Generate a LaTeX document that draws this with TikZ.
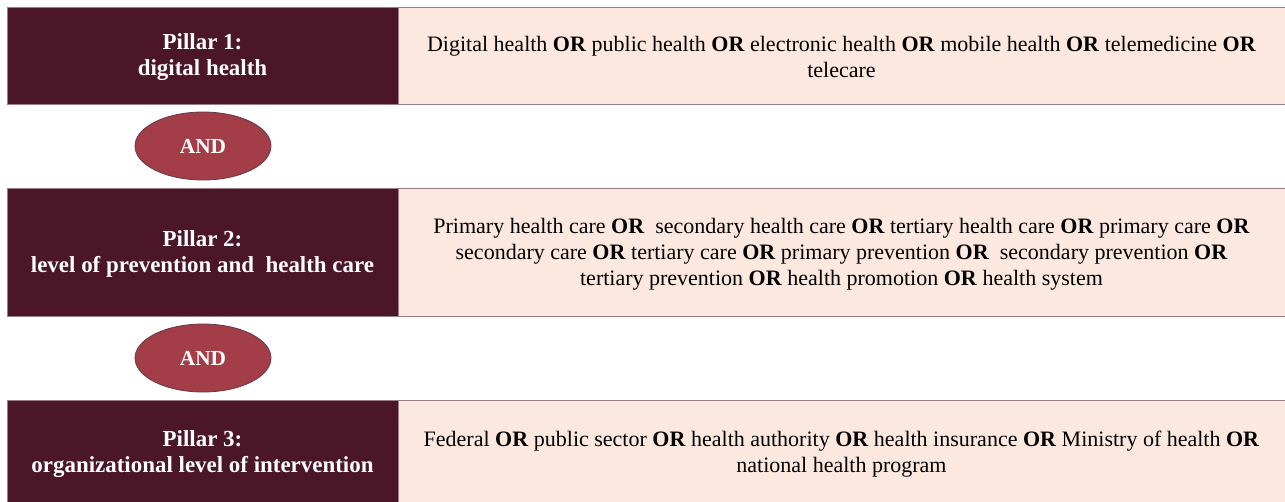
\documentclass[tikz,border=0pt]{standalone}
\usepackage{fontspec}
\setmainfont{Liberation Serif}
\usetikzlibrary{shapes.geometric}

\definecolor{pillar}{HTML}{4A1628}
\definecolor{terms}{HTML}{FDE8DF}
\definecolor{andfill}{HTML}{A33D48}
\definecolor{rule}{HTML}{9C7E86}

\tikzset{
  pillarbox/.style={fill=pillar, draw=rule, line width=0.6pt},
  termbox/.style={fill=terms, draw=rule, line width=0.6pt},
  pillartext/.style={text=white, align=center, font=\bfseries\fontsize{17.2}{19.5}\selectfont},
  termtext/.style={align=center, font=\fontsize{16.5}{19.5}\selectfont},
  andnode/.style={ellipse, fill=andfill, draw=pillar!85, line width=0.6pt,
    minimum width=102pt, minimum height=51pt, inner sep=0pt,
    text=white, font=\bfseries\fontsize{16}{18}\selectfont}
}
\newcommand{\OR}{\textbf{OR}}

\begin{document}
\begin{tikzpicture}[x=0.75pt,y=-0.75pt]
\useasboundingbox (0,0) rectangle (1285,501);
\clip (0,0) rectangle (1285,501);
\fill [white] (0,0) rectangle (1285,501);

% pillar 1
\draw [termbox] (398,7) rectangle (1295,104);
\draw [pillarbox] (7,7) rectangle (398,104);
\node [pillartext] (p1) at (202.5,57) {Pillar 1:\\ digital health};
\node [termtext] (t1) at (841.5,57) {Digital health \OR{} public health \OR{} electronic health \OR{} mobile health \OR{} telemedicine \OR\\ telecare};

\node [andnode] (and1) at (203,146) {AND};

% pillar 2
\draw [termbox] (398,188) rectangle (1295,316);
\draw [pillarbox] (7,188) rectangle (398,316);
\node [pillartext] (p2) at (202.5,254) {Pillar 2:\\ level of prevention and\ \ health care};
\node [termtext] (t2) at (841.5,254) {Primary health care \OR\ \ secondary health care \OR{} tertiary health care \OR{} primary care \OR\\
  secondary care \OR{} tertiary care \OR{} primary prevention \OR\ \ secondary prevention \OR\\
  tertiary prevention \OR{} health promotion \OR{} health system};

\node [andnode] (and2) at (203,358) {AND};

% pillar 3
\draw [termbox] (398,400) rectangle (1295,512);
\draw [pillarbox] (7,400) rectangle (398,512);
\node [pillartext] (p3) at (202.5,454) {Pillar 3:\\ organizational level of intervention};
\node [termtext] (t3) at (841.5,454) {Federal \OR{} public sector \OR{} health authority \OR{} health insurance \OR{} Ministry of health \OR\\ national health program};
\end{tikzpicture}
\end{document}
